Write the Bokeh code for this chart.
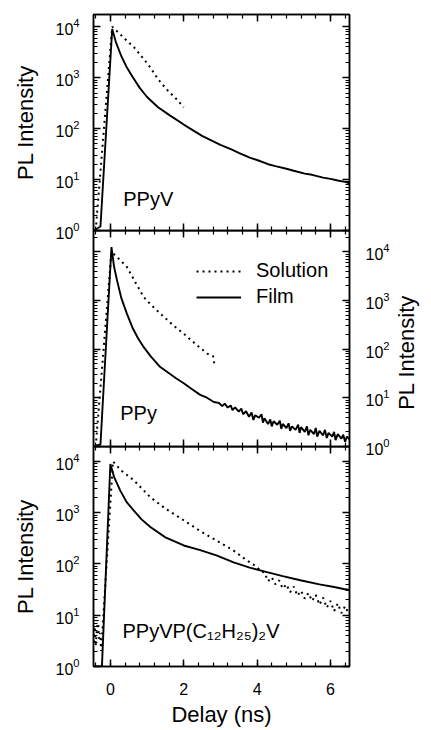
import math
from bokeh.plotting import figure
from bokeh.models import (LinearAxis, LogAxis, Range1d, Label, Legend, LegendItem,
                          SingleIntervalTicker, FixedTicker)
from bokeh.layouts import column
from bokeh.embed import file_html
from bokeh.resources import INLINE

FONT = "Liberation Sans"
X_MIN, X_MAX = -0.46, 6.52

# ---------------- data (delay in ns, PL intensity in counts) ----------------
# Panel 1: PPyV
ppyv_film_t = [-0.46, -0.27, 0.05, 0.15, 0.3, 0.45, 0.6, 0.8, 1.0, 1.3, 1.6, 2.0, 2.5,
               3.0, 3.3, 3.5, 3.8, 4.0, 4.3, 4.5, 4.8, 5.0, 5.3, 5.5, 5.8, 6.0, 6.2,
               6.4, 6.52]
ppyv_film_v = [1.0, 1.2, 9000, 5000, 2630, 1580, 1050, 630, 417, 263, 186, 120, 72,
               48, 39, 33.5, 27, 24.2, 20, 18.4, 16.3, 14.9, 13.1, 12.4, 10.9, 10.3, 9.6,
               9.0, 8.4]
ppyv_sol_t = [-0.40, 0.05, 0.2, 0.4, 0.64, 0.85, 1.09, 1.3, 1.55, 1.8, 2.0]
ppyv_sol_v = [1.0, 10000, 7900, 5750, 3980, 2630, 1580, 930, 575, 380, 263]

# Panel 2: PPy
ppy_film_t = [-0.46, -0.27, 0.03, 0.1, 0.18, 0.3, 0.45, 0.6, 0.75, 0.91, 1.1, 1.36, 1.6,
              1.8, 2.0, 2.2, 2.45, 2.6, 2.82, 2.95, 3.05, 3.12, 3.2, 3.28, 3.33, 3.4,
              3.5, 3.57, 3.62, 3.7, 3.78, 3.85, 3.9, 3.95, 4.05, 4.12, 4.16, 4.2, 4.3,
              4.36, 4.4, 4.45, 4.55, 4.62, 4.66, 4.7, 4.8, 4.86, 4.9, 4.95, 5.05,
              5.12, 5.16, 5.2, 5.3, 5.36, 5.4, 5.45, 5.55, 5.6, 5.64, 5.7, 5.8,
              5.85, 5.9, 5.95, 6.05, 6.1, 6.14, 6.2, 6.3, 6.35, 6.4, 6.45, 6.52]
ppy_film_v = [1.0, 1.1, 12600, 5000, 2630, 1120, 540, 280, 170, 110, 71, 43, 32,
              25, 20, 15.5, 11.5, 10.4, 8.2, 7.9, 6.8, 7.6, 6.3, 7.0, 5.6, 6.4,
              5.2, 6.0, 4.6, 5.3, 4.1, 5.0, 3.5, 4.4, 3.9, 4.6, 3.1, 3.8, 2.9,
              3.6, 2.6, 3.3, 2.8, 3.4, 2.3, 2.9, 2.4, 3.0, 2.1, 2.6, 2.2, 2.8,
              1.9, 2.5, 2.0, 2.6, 1.7, 2.2, 1.8, 2.4, 1.6, 2.1, 1.7, 2.2, 1.5,
              1.9, 1.6, 2.0, 1.35, 1.8, 1.45, 1.75, 1.25, 1.6, 1.4]
ppy_sol_t = [-0.40, 0.03, 0.2, 0.45, 0.7, 0.91, 1.1, 1.36, 1.7, 2.0, 2.3, 2.64, 2.8, 2.85]
ppy_sol_v = [1.0, 10000, 7600, 4900, 2240, 1175, 830, 540, 316, 209, 132, 81, 72, 43]

# Panel 3: PPyVP(C12H25)2V
ppyvp_film_t = [-0.46, -0.23, 0.0, 0.1, 0.27, 0.45, 0.64, 0.85, 1.09, 1.5, 2.0, 2.45,
                2.91, 3.36, 3.8, 4.27, 4.7, 5.18, 5.7, 6.1, 6.36, 6.52]
ppyvp_film_v = [1.0, 1.0, 8900, 5000, 2690, 1580, 1100, 740, 525, 330, 229, 186,
                145, 107, 85, 69, 58, 48, 40, 35.5, 32.4, 31]
ppyvp_sol_t = [-0.46, -0.43, -0.40, -0.37, -0.34, -0.31, -0.28, -0.25, 0.07, 0.3, 0.64,
               1.09, 1.5, 2.0, 2.45, 2.91, 3.36, 3.7, 4.0, 4.1, 4.2, 4.3, 4.4, 4.5, 4.6,
               4.7, 4.8, 4.9, 5.0, 5.1, 5.2, 5.3, 5.4, 5.5, 5.6, 5.7, 5.8, 5.9, 6.0,
               6.1, 6.2, 6.3, 6.4, 6.52]
ppyvp_sol_v = [3.0, 6.0, 2.5, 5.0, 8.0, 3.5, 4.5, 2.0, 10000, 6600, 4270,
               2000, 1200, 710, 437, 282, 182, 120, 87, 72, 68, 46, 55, 40, 48,
               33, 40, 28, 36, 24, 30, 21, 27, 19, 25, 16, 22, 14, 19,
               12, 17, 11, 15, 10]

Y_MAJOR = [1, 10, 100, 1000, 10000]
X_MAJOR_STEP = 2
OVERLAP = 12
FRAME_W = 256


def style_axis(ax, show_labels, label=None, label_size="22px"):
    ax.axis_line_color = "black"
    ax.axis_line_width = 1.5
    ax.major_tick_in = 7
    ax.major_tick_out = 0
    ax.minor_tick_in = 4
    ax.minor_tick_out = 0
    ax.major_tick_line_color = "black"
    ax.minor_tick_line_color = "black"
    ax.major_tick_line_width = 1.5
    ax.minor_tick_line_width = 1.2
    if show_labels:
        ax.major_label_text_font = FONT
        ax.major_label_text_font_size = "16px"
        ax.major_label_text_color = "black"
        ax.major_label_standoff = 14
    else:
        ax.major_label_text_font_size = "0px"
        ax.major_label_text_color = None
        ax.major_label_standoff = 0
    if label:
        ax.axis_label = label
        ax.axis_label_text_font = FONT
        ax.axis_label_text_font_size = label_size
        ax.axis_label_text_font_style = "normal"
        ax.axis_label_text_color = "black"
        ax.axis_label_standoff = 14


def y_ticker():
    minors = [m * 10 ** d for d in range(5) for m in range(2, 10)]
    return FixedTicker(ticks=Y_MAJOR, minor_ticks=minors)


def panel(film_t, film_v, sol_t, sol_v, ytop, frame_h, name, name_x, name_y,
          ylab_side, bottom_labels, top_border, bottom_border, overlap_above,
          legend=False):
    p = figure(frame_width=FRAME_W, frame_height=frame_h,
               x_range=Range1d(X_MIN, X_MAX), y_range=Range1d(1, ytop),
               y_axis_type="log", x_axis_location=None, y_axis_location=None,
               toolbar_location=None, output_backend="svg",
               min_border_left=93, min_border_right=80,
               min_border_top=top_border, min_border_bottom=bottom_border)
    if overlap_above:
        p.margin = (-OVERLAP, 0, 0, 0)
    p.xgrid.grid_line_color = None
    p.ygrid.grid_line_color = None
    p.outline_line_color = "black"
    p.outline_line_width = 1.5
    p.background_fill_color = None
    p.border_fill_color = None

    xb = LinearAxis(ticker=SingleIntervalTicker(interval=X_MAJOR_STEP, num_minor_ticks=5))
    style_axis(xb, bottom_labels, "Delay (ns)" if bottom_labels else None)
    if bottom_labels:
        xb.major_label_standoff = 16
        xb.axis_label_standoff = 4
    p.add_layout(xb, "below")
    xt = LinearAxis(ticker=SingleIntervalTicker(interval=X_MAJOR_STEP, num_minor_ticks=5))
    style_axis(xt, False)
    p.add_layout(xt, "above")

    yl = LogAxis(ticker=y_ticker())
    style_axis(yl, ylab_side == "left", "PL Intensity" if ylab_side == "left" else None)
    p.add_layout(yl, "left")
    yr = LogAxis(ticker=y_ticker())
    style_axis(yr, ylab_side == "right", "PL Intensity" if ylab_side == "right" else None)
    if ylab_side == "right":
        yr.major_label_standoff = 16
        yr.axis_label_standoff = 14
        # axis title reading bottom-to-top, like the left-hand ones
        yr.axis_label_orientation = math.pi / 2
        if "axis_label_align" in yr.properties():
            yr.axis_label_align = "start"
            yr.axis_label = "\u00a0" * 6 + "PL Intensity"
    p.add_layout(yr, "right")

    sol_r = p.line(sol_t, sol_v, line_color="black", line_width=2.0, line_dash="2 4")
    film_r = p.line(film_t, film_v, line_color="black", line_width=1.9)

    p.add_layout(Label(x=name_x, y=name_y, text=name, text_font=FONT,
                       text_font_size="20px", text_baseline="middle", text_color="black"))
    if legend:
        lg = Legend(items=[LegendItem(label="Solution", renderers=[sol_r]),
                           LegendItem(label="Film", renderers=[film_r])],
                    location=(103, 138), border_line_color=None,
                    background_fill_alpha=0, padding=0, margin=0,
                    glyph_width=45, glyph_height=20, label_height=20,
                    label_standoff=15, spacing=3,
                    label_text_font=FONT, label_text_font_size="20px",
                    label_text_color="black")
        p.add_layout(lg)
    return p


p1 = panel(ppyv_film_t, ppyv_film_v, ppyv_sol_t, ppyv_sol_v, 10 ** 4.24, 216,
           "PPyV", 0.35, 4.2, "left", False, 14, OVERLAP, False)
p2 = panel(ppy_film_t, ppy_film_v, ppy_sol_t, ppy_sol_v, 10 ** 4.44, 216,
           "PPy", 0.27, 4.8, "right", False, 0, OVERLAP, True, legend=True)
p3 = panel(ppyvp_film_t, ppyvp_film_v, ppyvp_sol_t, ppyvp_sol_v, 10 ** 4.29, 220,
           "PPyVP(C\u2081\u2082H\u2082\u2085)\u2082V", 0.33, 5.0, "left", True, 0, 0, True)

layout = column(p1, p2, p3, spacing=0)
open("out.html", "w").write(file_html(layout, INLINE))
